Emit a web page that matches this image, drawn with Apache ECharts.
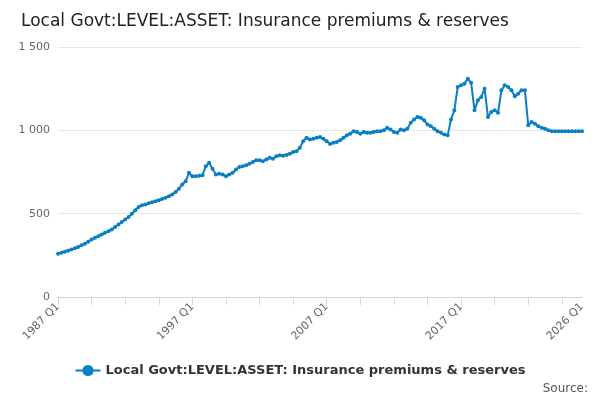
<!DOCTYPE html>
<html>
<head>
<meta charset="UTF-8">
<script src="https://cdn.jsdelivr.net/npm/echarts@6/dist/echarts.min.js"></script>
</head>
<body style="margin:0">
<div id="main" style="width:600px;height:400px"></div>
<script>
var seriesName = 'Local Govt:LEVEL:ASSET: Insurance premiums & reserves';
var startYear = 1987;
var values = [
  260,265,272,278, 285,292,300,310, 320,332,345,355, 365,375,385,395,
  405,420,435,450, 465,480,500,520, 540,550,555,562, 568,575,580,588,
  595,605,615,630, 650,675,695,745, 725,725,728,730, 785,805,770,735,
  740,735,725,735, 745,765,780,785, 790,800,810,820, 820,815,825,835,
  830,845,850,848, 852,860,870,875, 895,935,955,945, 950,955,960,950,
  935,918,925,930, 940,955,970,980, 995,990,980,990, 985,985,990,995,
  995,1000,1015,1005, 990,985,1005,1000, 1010,1045,1065,1080, 1075,1060,1035,1025,
  1010,995,985,975, 970,1065,1120,1260, 1270,1280,1310,1285, 1120,1180,1200,1250,
  1080,1110,1120,1105, 1240,1270,1260,1240, 1205,1220,1240,1240, 1030,1050,1040,1025,
  1015,1010,1000,995, 995,995,995,995, 995,995,995,995, 995
];
var quarters = [];
for (var i = 0; i < values.length; i++) {
  quarters.push((startYear + Math.floor(i / 4)) + ' Q' + (i % 4 + 1));
}
var labelQuarters = ['1987 Q1', '1997 Q1', '2007 Q1', '2017 Q1', '2026 Q1'];

var chart = echarts.init(document.getElementById('main'));
chart.setOption({
  animation: false,
  title: {
    text: seriesName, left: 16, top: 8,
    textStyle: { fontFamily: 'DejaVu Sans', fontSize: 17, fontWeight: 'normal', color: '#222' }
  },
  legend: {
    bottom: 18, left: 'center', data: [seriesName],
    textStyle: { fontFamily: 'DejaVu Sans', fontSize: 13, fontWeight: 'bold', color: '#333' }
  },
  graphic: [{ type: 'text', right: 12, bottom: 5, style: { text: 'Source:', font: '12px DejaVu Sans', fill: '#555' } }],
  grid: { left: 58, right: 18, top: 47, bottom: 103 },
  xAxis: {
    type: 'category', data: quarters, boundaryGap: false,
    axisLine: { lineStyle: { color: '#ccd6eb' } },
    axisTick: { interval: 9, length: 8, lineStyle: { color: '#ccd6eb' } },
    axisLabel: {
      rotate: 45, color: '#666', fontFamily: 'DejaVu Sans', fontSize: 11,
      interval: function (i, v) { return labelQuarters.indexOf(v) >= 0; }
    }
  },
  yAxis: {
    type: 'value', min: 0, max: 1500, interval: 500,
    splitLine: { lineStyle: { color: '#e6e6e6' } },
    axisLabel: {
      color: '#666', fontFamily: 'DejaVu Sans', fontSize: 11,
      formatter: function (v) { return String(v).replace(/\B(?=(\d{3})+(?!\d))/g, ' '); }
    }
  },
  series: [{
    name: seriesName, type: 'line', data: values,
    color: '#0a7fc2', symbol: 'circle', symbolSize: 4, showAllSymbol: true,
    lineStyle: { width: 2 }
  }]
});
</script>
</body>
</html>
